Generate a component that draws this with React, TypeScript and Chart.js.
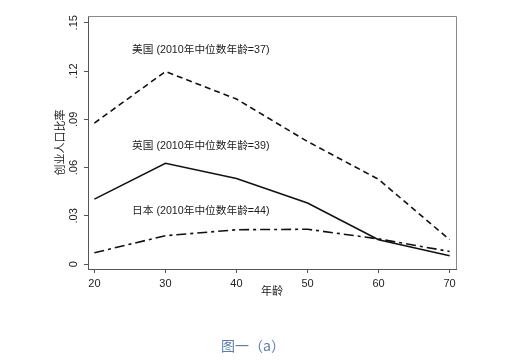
import React, { useEffect, useRef } from "react";
import { Chart, registerables } from "chart.js";

Chart.register(...registerables);

const ages = [20, 30, 40, 50, 60, 70];
const usRates = [0.0877, 0.1197, 0.1026, 0.0762, 0.0527, 0.0152];
const ukRates = [0.0404, 0.0627, 0.0532, 0.038, 0.0152, 0.0052];
const jpRates = [0.0071, 0.0177, 0.0214, 0.0217, 0.0157, 0.0079];

const yTickLabels: Record<string, string> = {
  "0": "0",
  "3": ".03",
  "6": ".06",
  "9": ".09",
  "12": ".12",
  "15": ".15",
};

const annotationTexts = [
  "美国 (2010年中位数年龄=37)",
  "英国 (2010年中位数年龄=39)",
  "日本 (2010年中位数年龄=44)",
];
const annotationAge = 25.3;
const annotationRates = [0.1332, 0.0736, 0.0332];

const FONT = "'Liberation Sans', 'Noto Sans CJK SC', Arial, sans-serif";

const framePlugin = {
  id: "frame",
  afterDraw(chart: any) {
    const { ctx, chartArea } = chart;
    ctx.save();
    ctx.strokeStyle = "#8a8a8a";
    ctx.lineWidth = 1;
    ctx.beginPath();
    ctx.moveTo(chartArea.left, chartArea.top + 0.5);
    ctx.lineTo(chartArea.right + 0.5, chartArea.top + 0.5);
    ctx.lineTo(chartArea.right + 0.5, chartArea.bottom);
    ctx.stroke();
    ctx.restore();
  },
};

const annotationPlugin = {
  id: "annot",
  afterDatasetsDraw(chart: any) {
    const { ctx, scales } = chart;
    ctx.save();
    ctx.fillStyle = "#1a1a1a";
    ctx.font = `10.7px ${FONT}`;
    ctx.textAlign = "left";
    ctx.textBaseline = "middle";
    annotationTexts.forEach((t, i) => {
      const x = scales.x.getPixelForValue(annotationAge);
      const y = scales.y.getPixelForValue(annotationRates[i]);
      ctx.fillText(t, x, y);
    });
    ctx.restore();
  },
};

export default function App() {
  const ref = useRef<HTMLCanvasElement>(null);
  useEffect(() => {
    if (!ref.current) return;
    const chart = new Chart(ref.current, {
      type: "line",
      data: {
        datasets: [
          {
            label: "美国",
            data: ages.map((a, i) => ({ x: a, y: usRates[i] })),
            borderColor: "#111",
            borderWidth: 1.6,
            borderDash: [6, 4],
            pointRadius: 0,
            fill: false,
          },
          {
            label: "英国",
            data: ages.map((a, i) => ({ x: a, y: ukRates[i] })),
            borderColor: "#111",
            borderWidth: 1.6,
            pointRadius: 0,
            fill: false,
          },
          {
            label: "日本",
            data: ages.map((a, i) => ({ x: a, y: jpRates[i] })),
            borderColor: "#111",
            borderWidth: 1.6,
            borderDash: [10, 4, 3, 4],
            pointRadius: 0,
            fill: false,
          },
        ],
      },
      options: {
        responsive: false,
        animation: false,
        devicePixelRatio: 1,
        layout: { padding: { left: 0, top: 16, right: 72, bottom: 61 } },
        plugins: {
          legend: { display: false },
          tooltip: { enabled: false },
        },
        scales: {
          x: {
            type: "linear",
            min: 19.1,
            max: 70.9,
            afterFit: (s: any) => {
              s.height = 32;
            },
            ticks: {
              stepSize: 10,
              includeBounds: false,
              padding: 4,
              color: "#222",
              font: { family: FONT, size: 11 },
              callback: (v: any) => String(v),
            },
            grid: {
              drawOnChartArea: false,
              drawTicks: true,
              tickLength: 4,
              color: "#555",
            },
            border: { color: "#555", width: 1 },
            title: {
              display: true,
              text: "年龄",
              color: "#222",
              font: { family: FONT, size: 11 },
              padding: { top: 0, bottom: 2 },
            },
          },
          y: {
            type: "linear",
            min: -0.003,
            max: 0.1542,
            afterFit: (s: any) => {
              s.width = 88;
            },
            ticks: {
              stepSize: 0.03,
              includeBounds: false,
              minRotation: 90,
              maxRotation: 90,
              crossAlign: "center",
              padding: 2,
              color: "#222",
              font: { family: FONT, size: 11 },
              callback: (v: any) => yTickLabels[String(Math.round(Number(v) * 100))] ?? "",
            },
            grid: {
              drawOnChartArea: false,
              drawTicks: true,
              tickLength: 4,
              color: "#555",
            },
            border: { color: "#555", width: 1 },
            title: {
              display: true,
              text: "创业人口比率",
              color: "#222",
              font: { family: FONT, size: 11 },
              padding: { top: 54, bottom: 0 },
            },
          },
        },
      },
      plugins: [framePlugin, annotationPlugin],
    } as any);
    return () => chart.destroy();
  }, []);

  return (
    <div style={{ position: "absolute", left: 0, top: 0, width: 528, height: 362, background: "#fff" }}>
      <canvas ref={ref} width={528} height={362} style={{ position: "absolute", left: 0, top: 0 }} />
      <div
        style={{
          position: "absolute",
          left: 221,
          top: 336,
          fontFamily: "'Noto Sans CJK SC', sans-serif",
          fontSize: 14,
          lineHeight: "18px",
          color: "#5a7bb0",
          whiteSpace: "nowrap",
        }}
      >
        图一（a）
      </div>
    </div>
  );
}
